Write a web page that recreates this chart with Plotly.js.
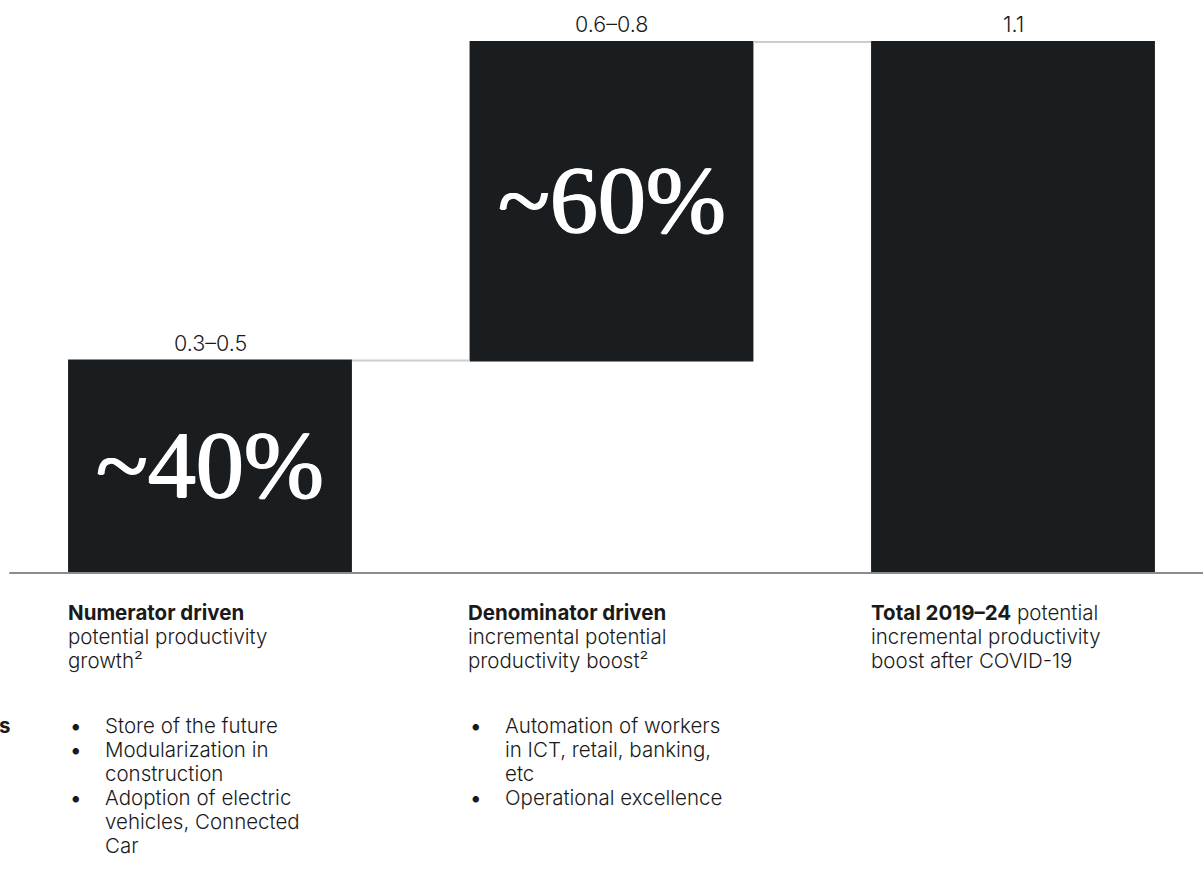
<!DOCTYPE html>
<html>
<head>
<meta charset="utf-8">
<script src="https://cdn.plot.ly/plotly-3.0.1.min.js"></script>
<style>html,body{margin:0;padding:0;background:#fff;}#chart{width:1203px;height:889px;}</style>
</head>
<body>
<div id="chart"></div>
<script>
// ---- Data ----
const categories = ["Numerator", "Denominator", "Total"];
const measures = ["relative", "relative", "total"];
const increments = [0.44, 0.66, 0];
const rangeLabels = ["0.3–0.5", "0.6–0.8", "1.1"];
const shareLabels = ["~40%", "~60%", ""];
const headingLines = [
  ["<b>Numerator driven</b>", "potential productivity", "growth²"],
  ["<b>Denominator driven</b>", "incremental potential", "productivity boost²"],
  ["<b>Total 2019–24</b> potential", "incremental productivity", "boost after COVID-19"]
];
const bulletItems = [
  [["Store of the future"], ["Modularization in", "construction"], ["Adoption of electric", "vehicles, Connected", "Car"]],
  [["Automation of workers", "in ICT, retail, banking,", "etc"], ["Operational excellence"]],
  []
];

// ---- Layout helpers ----
const W = 1203, H = 889;
const px = x => x / W;
const py = y => 1 - y / H;
const BAR = "#1a1d20";
const TXT = "#1a1a1a";
const FONT = "Inter, 'Liberation Sans', Arial, sans-serif";
const FS = 20.5;

// cumulative tops
const tops = [];
let cum = 0;
increments.forEach((v, i) => { if (measures[i] === "total") tops.push(cum); else { cum += v; tops.push(cum); } });
const bottoms = tops.map((t, i) => measures[i] === "total" ? 0 : t - increments[i]);

const trace = {
  type: "waterfall",
  x: categories,
  y: increments,
  measure: measures,
  width: 0.707,
  increasing: {marker: {color: BAR}},
  decreasing: {marker: {color: BAR}},
  totals: {marker: {color: BAR}},
  connector: {mode: "between", line: {color: "#cccccc", width: 2}},
  textposition: "none",
  hoverinfo: "skip",
  showlegend: false
};

const annotations = [];
// range labels above bars
categories.forEach((c, i) => {
  annotations.push({x: c, y: tops[i], xref: "x", yref: "y", text: rangeLabels[i], showarrow: false,
    yanchor: "bottom", yshift: 3, font: {family: FONT, size: 21.5, weight: 300, color: TXT}});
  if (shareLabels[i]) {
    annotations.push({x: c, y: (tops[i] + bottoms[i]) / 2, xref: "x", yref: "y", text: shareLabels[i],
      showarrow: false, yanchor: "middle", yshift: 2,
      font: {family: "'Liberation Serif', 'DejaVu Serif', serif", size: 96, color: "#ffffff",
        shadow: "0.9px 0 0 #ffffff, -0.9px 0 0 #ffffff, 0 0.5px 0 #ffffff"}});
  }
});

// bottom text blocks
const colX = [68, 468, 871];
const lineH = 24;
headingLines.forEach((lines, i) => {
  lines.forEach((t, j) => {
    annotations.push({x: px(colX[i]), y: py(612 + j * lineH), xref: "paper", yref: "paper", text: t,
      showarrow: false, xanchor: "left", yanchor: "middle", align: "left", xshift: -2,
      font: {family: FONT, size: FS, weight: 300, color: TXT}});
  });
});
bulletItems.forEach((items, i) => {
  let row = 0;
  items.forEach(item => {
    annotations.push({x: px(colX[i] + 2), y: py(725 + row * lineH), xref: "paper", yref: "paper", text: "•",
      showarrow: false, xanchor: "left", yanchor: "middle", xshift: -2,
      font: {family: FONT, size: FS, color: TXT}});
    item.forEach(t => {
      annotations.push({x: px(colX[i] + 37), y: py(725 + row * lineH), xref: "paper", yref: "paper", text: t,
        showarrow: false, xanchor: "left", yanchor: "middle", align: "left", xshift: -2,
        font: {family: FONT, size: FS, weight: 300, color: TXT}});
      row++;
    });
  });
});
// cropped label at left edge
annotations.push({x: 0, y: py(725), xref: "paper", yref: "paper", text: "<b>s</b>", showarrow: false,
  xanchor: "left", yanchor: "middle", xshift: -3, font: {family: FONT, size: FS, color: TXT}});

// axis scaling: category 0 at px 210, 2 at px 1013; value 0 at px 573, 1.1 at px 42
const sx = (1013 - 210) / 2;
const sy = (573 - 42) / 1.1;
const layout = {
  width: W, height: H,
  margin: {l: 0, r: 0, t: 0, b: 0},
  paper_bgcolor: "#ffffff", plot_bgcolor: "#ffffff",
  xaxis: {range: [-210 / sx, (W - 210) / sx], showgrid: false, zeroline: false, showticklabels: false,
    showline: false, fixedrange: true},
  yaxis: {range: [-(H - 573) / sy, 573 / sy], showgrid: false, zeroline: false, showticklabels: false,
    showline: false, fixedrange: true},
  shapes: [{type: "line", xref: "x", yref: "y", x0: -0.5, x1: 2.6, y0: 0, y1: 0,
    line: {color: "#8c8c8c", width: 2}}],
  annotations: annotations,
  showlegend: false
};

Plotly.newPlot("chart", [trace], layout, {displayModeBar: false, staticPlot: true});
</script>
</body>
</html>
